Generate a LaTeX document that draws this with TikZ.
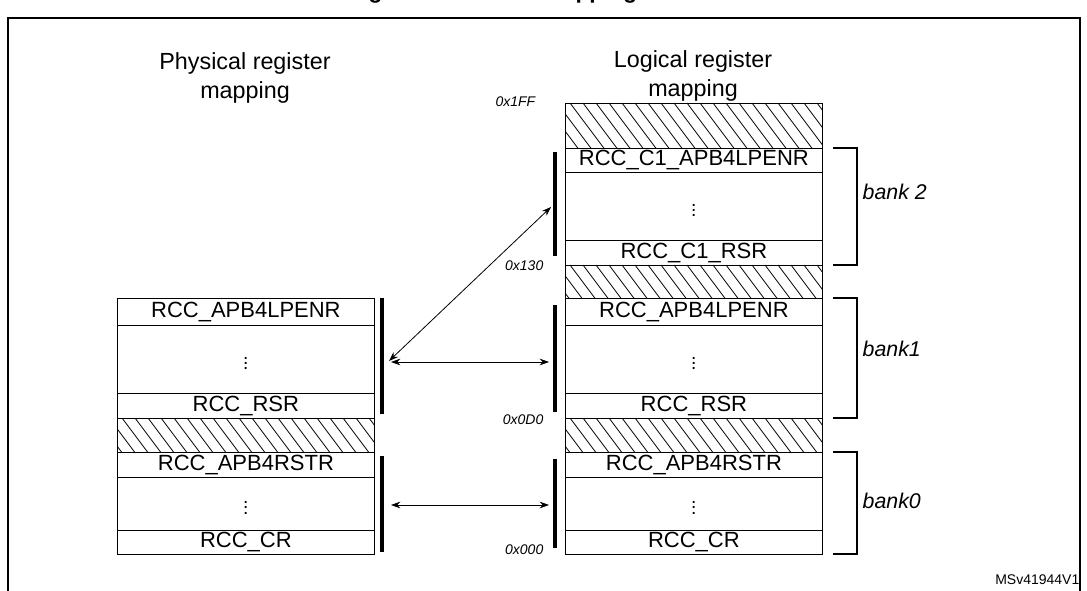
\documentclass[tikz,border=0pt]{standalone}
\usepackage{fontspec}
\setmainfont{Liberation Sans}
\usetikzlibrary{arrows.meta}
\begin{document}
\begin{tikzpicture}[x=0.75pt,y=-0.75pt,
  row/.style={draw, line width=0.6pt, minimum width=192.75pt, inner sep=0pt, anchor=north west, font=\fontsize{16.5}{16.5}\selectfont},
  bar/.style={line width=3pt},
  brk/.style={line width=1.5pt},
  addr/.style={font=\fontsize{10.5}{10.5}\selectfont\itshape, anchor=east},
  bank/.style={font=\fontsize{16}{16}\selectfont\itshape, anchor=west},
  ttl/.style={font=\fontsize{17.5}{22}\selectfont, align=center},
  arr/.style={{Stealth[length=7pt,width=5pt]}-{Stealth[length=7pt,width=5pt]}, line width=0.6pt}]
\useasboundingbox (0,0) rectangle (1087,591);
\newcommand\rowbox[5]{\node[row, minimum height={#4*0.75pt}] (#1) at (#2,#3) {#5};}
\newcommand\hatchbox[4]{%
  \node[row, minimum height={#4*0.75pt}] (#1) at (#2,#3) {};
  \begin{scope}
    \clip (#2,#3) rectangle ++(257,#4);
    \foreach \i in {-60,-47,...,300} \draw[line width=0.6pt] (#2+\i,#3) -- ++(36,48);
  \end{scope}}
% frame and clipped title
\draw[line width=1.5pt] (8,591) -- (8,18) -- (1080,18) -- (1080,591);
\begin{scope}
  \clip (0,0) rectangle (1087,17);
  \node[font=\fontsize{17}{17}\selectfont\bfseries, anchor=base] (t1) at (385,-1) {Register};
  \node[font=\fontsize{17}{17}\selectfont\bfseries, anchor=base] (t2) at (590,-1) {mapping};
\end{scope}
\node[ttl] (pt) at (245,78) {Physical register\\mapping};
\node[ttl] (lt) at (693,76) {Logical register\\mapping};
% left block
\rowbox{l1}{117}{298}{27}{RCC\_APB4LPENR}
\rowbox{l2}{117}{325}{68}{\Large$\vdots$}
\rowbox{l3}{117}{393}{25}{RCC\_RSR}
\hatchbox{lh}{117}{418}{34}
\rowbox{l4}{117}{452}{25}{RCC\_APB4RSTR}
\rowbox{l5}{117}{477}{53}{\Large$\vdots$}
\rowbox{l6}{117}{530}{24}{RCC\_CR}
% right block
\hatchbox{rh1}{565}{103}{45}
\rowbox{r1}{565}{148}{24}{RCC\_C1\_APB4LPENR}
\rowbox{r2}{565}{172}{68}{\Large$\vdots$}
\rowbox{r3}{565}{240}{25}{RCC\_C1\_RSR}
\hatchbox{rh2}{565}{265}{33}
\rowbox{r4}{565}{298}{27}{RCC\_APB4LPENR}
\rowbox{r5}{565}{325}{68}{\Large$\vdots$}
\rowbox{r6}{565}{393}{25}{RCC\_RSR}
\hatchbox{rh3}{565}{418}{34}
\rowbox{r7}{565}{452}{25}{RCC\_APB4RSTR}
\rowbox{r8}{565}{477}{53}{\Large$\vdots$}
\rowbox{r9}{565}{530}{24}{RCC\_CR}
% bars
\coordinate (lb1t) at (382,298); \coordinate (lb1b) at (382,414);
\coordinate (lb2t) at (382,456); \coordinate (lb2b) at (382,552);
\coordinate (rb1t) at (555,152); \coordinate (rb1b) at (555,256);
\coordinate (rb2t) at (555,305); \coordinate (rb2b) at (555,412);
\coordinate (rb3t) at (555,459); \coordinate (rb3b) at (555,548);
\draw[bar] (lb1t) -- (lb1b);
\draw[bar] (lb2t) -- (lb2b);
\draw[bar] (rb1t) -- (rb1b);
\draw[bar] (rb2t) -- (rb2b);
\draw[bar] (rb3t) -- (rb3b);
% arrows
\coordinate (a1) at (389,361); \coordinate (a2) at (551,207);
\coordinate (a3) at (391,362); \coordinate (a4) at (549,362);
\coordinate (a5) at (391,505); \coordinate (a6) at (549,505);
\draw[arr] (a1) -- (a2);
\draw[arr] (a3) -- (a4);
\draw[arr] (a5) -- (a6);
% brackets
\draw[brk] (r1.north east) ++(10,0) -- ++(24,0) -- ++(0,117) -- ++(-24,0);
\draw[brk] (r4.north east) ++(10,0) -- ++(24,0) -- ++(0,120) -- ++(-24,0);
\draw[brk] (r7.north east) ++(10,0) -- ++(24,0) -- ++(0,102) -- ++(-24,0);
\node[bank] (b2) at (858,192) {bank 2};
\node[bank] (b1) at (858,349) {bank1};
\node[bank] (b0) at (858,501) {bank0};
% addresses
\node[addr] (ad1) at (540,102) {0x1FF};
\node[addr] (ad2) at (548,266) {0x130};
\node[addr] (ad3) at (548,420) {0x0D0};
\node[addr] (ad4) at (548,550) {0x000};
\node[font=\fontsize{10.5}{10.5}\selectfont, anchor=east] (ms) at (1084,580) {MSv41944V1};
\end{tikzpicture}
\end{document}
